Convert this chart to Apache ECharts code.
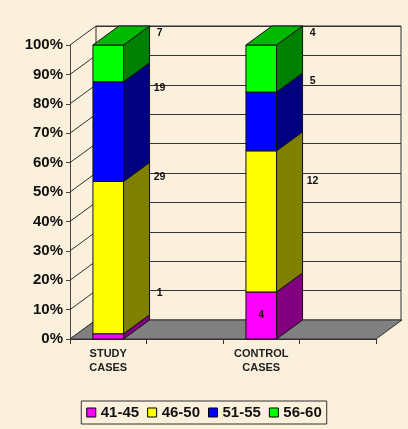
<!DOCTYPE html>
<html>
<head>
<meta charset="utf-8">
<script src="https://cdn.jsdelivr.net/npm/echarts@6/dist/echarts.min.js"></script>
<style>
html,body{margin:0;padding:0;background:#FAF0DC;}
#chart{width:408px;height:429px;}
</style>
</head>
<body>
<div id="chart"></div>
<script>
// ---- data ----
const categories = ['STUDY CASES', 'CONTROL CASES'];
const groups = ['41-45', '46-50', '51-55', '56-60'];
const studyCounts = [1, 29, 19, 7];
const controlCounts = [4, 12, 5, 4];
const yTicks = [0, 10, 20, 30, 40, 50, 60, 70, 80, 90, 100];

// ---- styling / layout ----
const FONT = "'Liberation Sans', Arial, sans-serif";
const frontColors = ['#FF00FF', '#FFFF00', '#0000FF', '#00FF00'];
const sideColors = ['#800080', '#808000', '#000080', '#008000'];
const topColor = '#00BA00';
const DX = 26, DY = -19;           // 3D depth offset in pixels
const BAR_RATIO = 0.4;
// label anchor levels (percent on front scale) per group, per category
const labelLevels = [[15.7, 8.2], [55.2, 53.7], [85.3, 87.8], [104, 104]];
const labelInside = [[false, true], [false, false], [false, false], [false, false]];

const countsByCat = [studyCounts, controlCounts];
const axisCats = [];
categories.forEach(c => { axisCats.push(c.replace(' ', '\n')); axisCats.push(''); });

function buildSeriesData(g) {
  return countsByCat.map((counts, ci) => {
    const total = counts.reduce((a, b) => a + b, 0);
    let start = 0;
    for (let k = 0; k < g; k++) start += counts[k] / total * 100;
    const end = start + counts[g] / total * 100;
    return [ci * 2, start, end, counts[g], labelLevels[g][ci], labelInside[g][ci] ? 1 : 0];
  });
}

const barSeries = groups.map((name, g) => ({
  name: name,
  type: 'custom',
  xAxisIndex: 0, yAxisIndex: 0,
  z: 5,
  itemStyle: { color: frontColors[g], borderColor: '#000', borderWidth: 1 },
  data: buildSeriesData(g),
  renderItem: function (params, api) {
    const xi = api.value(0), s = api.value(1), e = api.value(2);
    const cnt = api.value(3), lvl = api.value(4), inside = api.value(5);
    const pb = api.coord([xi, s]);
    const pt = api.coord([xi, e]);
    const bw = api.size([1, 0])[0] * BAR_RATIO;
    const x0 = pb[0] - bw / 2, x1 = pb[0] + bw / 2;
    const yb = pb[1], yt = pt[1];
    const stroke = { stroke: '#111', lineWidth: 1 };
    const children = [
      { type: 'rect', shape: { x: x0, y: yt, width: bw, height: yb - yt },
        style: Object.assign({ fill: frontColors[g] }, stroke) },
      { type: 'polygon', shape: { points: [[x1, yb], [x1 + DX, yb + DY], [x1 + DX, yt + DY], [x1, yt]] },
        style: Object.assign({ fill: sideColors[g] }, stroke) }
    ];
    if (e >= 99.99) {
      children.push({ type: 'polygon', shape: { points: [[x0, yt], [x1, yt], [x1 + DX, yt + DY], [x0 + DX, yt + DY]] },
        style: Object.assign({ fill: topColor }, stroke) });
    }
    const ly = api.coord([xi, lvl])[1];
    children.push({
      type: 'text',
      style: {
        text: String(cnt), x: inside ? pb[0] : x1 + DX + 10, y: ly,
        textAlign: 'center', textVerticalAlign: 'middle',
        font: 'bold 10.5px ' + FONT, fill: '#111'
      },
      z2: 10
    });
    return { type: 'group', children: children };
  }
}));

const diagSeries = {
  type: 'custom', xAxisIndex: 0, yAxisIndex: 0, z: 2, silent: true,
  data: yTicks.map(v => [0, v]),
  renderItem: function (params, api) {
    const cs = params.coordSys;
    const y = api.coord([0, api.value(1)])[1];
    return { type: 'line', shape: { x1: cs.x, y1: y, x2: cs.x + DX, y2: y + DY },
      style: { stroke: '#333', lineWidth: 1 } };
  }
};

const floorSeries = {
  type: 'custom', xAxisIndex: 0, yAxisIndex: 0, z: 3, silent: true,
  data: [[0, 0]],
  renderItem: function (params, api) {
    const cs = params.coordSys;
    const y0 = api.coord([0, 0])[1];
    return { type: 'polygon',
      shape: { points: [[cs.x, y0], [cs.x + cs.width, y0], [cs.x + cs.width + DX, y0 + DY], [cs.x + DX, y0 + DY]] },
      style: { fill: '#808080', stroke: '#333', lineWidth: 1 } };
  }
};

const chart = echarts.init(document.getElementById('chart'), null, { renderer: 'canvas' });
chart.setOption({
  backgroundColor: '#FAF0DC',
  animation: false,
  textStyle: { fontFamily: FONT },
  grid: [
    { left: 70, right: 32, top: 45, bottom: 90 },
    { left: 96, right: 7, top: 26, bottom: 109, show: true, borderColor: '#333', borderWidth: 1, backgroundColor: 'transparent' }
  ],
  xAxis: [
    { type: 'category', gridIndex: 0, data: axisCats, boundaryGap: true,
      axisLine: { lineStyle: { color: '#333' } },
      axisTick: { show: true, interval: 0, length: 5, lineStyle: { color: '#333' } },
      axisLabel: { interval: 0, margin: 8, fontSize: 11, fontWeight: 'bold', color: '#222', lineHeight: 14, fontFamily: FONT } },
    { type: 'value', gridIndex: 1, show: false, min: 0, max: 1 }
  ],
  yAxis: [
    { type: 'value', gridIndex: 0, min: 0, max: 100, interval: 10,
      axisLine: { show: true, lineStyle: { color: '#444' } },
      axisTick: { show: true, length: 4, lineStyle: { color: '#444' } },
      splitLine: { show: false },
      axisLabel: { formatter: '{value}%', margin: 7, fontSize: 15, fontWeight: 'bold', color: '#111', fontFamily: FONT } },
    { type: 'value', gridIndex: 1, min: 0, max: 100, interval: 10,
      axisLine: { show: false }, axisTick: { show: false }, axisLabel: { show: false },
      splitLine: { show: true, lineStyle: { color: '#333', width: 1 } } }
  ],
  legend: {
    data: groups, left: 'center', top: 401,
    icon: 'rect', itemWidth: 9, itemHeight: 9, itemGap: 8,
    itemStyle: { borderColor: '#000', borderWidth: 1 },
    borderColor: '#333', borderWidth: 1, padding: [4, 5],
    textStyle: { fontSize: 15, fontWeight: 'bold', color: '#111', fontFamily: FONT }
  },
  series: [diagSeries, floorSeries].concat(barSeries)
});
</script>
</body>
</html>
